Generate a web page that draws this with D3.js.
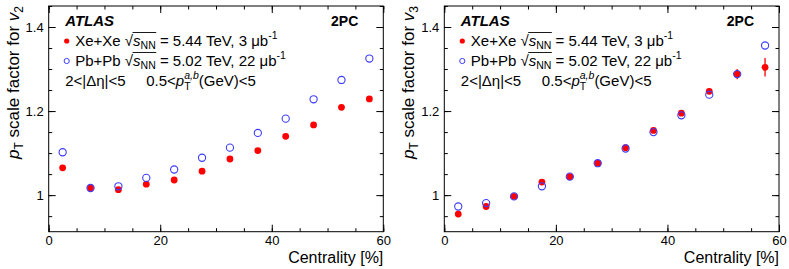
<!DOCTYPE html>
<html>
<head>
<meta charset="utf-8">
<style>
  body { margin: 0; background: #fff; }
  svg text { font-family: "Liberation Sans", Arial, Helvetica, sans-serif; fill: #000; }
</style>
</head>
<body>
<svg id="chart" width="789" height="269"></svg>
<script src="https://d3js.org/d3.v7.min.js"></script>
<script>
  // Centrality bin centres [%]
  const centrality = [2.5, 7.5, 12.5, 17.5, 22.5, 27.5, 32.5, 37.5, 42.5, 47.5, 52.5, 57.5];

  // pT scale factor for v2
  const v2XeXe = [1.065, 1.017, 1.013, 1.026, 1.036, 1.057, 1.086, 1.106, 1.140, 1.167, 1.209, 1.229];
  const v2PbPb = [1.102, 1.017, 1.021, 1.041, 1.061, 1.089, 1.113, 1.148, 1.182, 1.228, 1.274, 1.325];

  // pT scale factor for v3
  const v3XeXe = [0.955, 0.973, 0.997, 1.031, 1.044, 1.076, 1.113, 1.154, 1.195, 1.247, 1.288, 1.304];
  const v3XeXeErr = [0, 0, 0, 0, 0, 0, 0, 0, 0.004, 0.006, 0.012, 0.022];
  const v3PbPb = [0.973, 0.981, 0.997, 1.021, 1.044, 1.076, 1.111, 1.150, 1.190, 1.239, 1.288, 1.356];

  const xMajor = [0, 20, 40, 60];
  const xMinor = d3.range(0, 61, 5);
  const yMajor = [1, 1.2, 1.4];
  const yMinor = d3.range(0.95, 1.451, 0.05);

  const svg = d3.select('#chart');

  const plotTop = 6, plotBottom = 231.7;
  const y = d3.scaleLinear().domain([0.913, 1.45]).range([plotBottom, plotTop]);

  const red = '#ff0000';
  const blue = '#3c3cff';

  function panel(x0, x1, xe, pb, xeErr, harmonic) {
    const x = d3.scaleLinear().domain([0, 60]).range([x0, x1]);
    const g = svg.append('g');

    // frame
    g.append('rect')
      .attr('x', x0).attr('y', plotTop)
      .attr('width', x1 - x0).attr('height', plotBottom - plotTop)
      .attr('fill', 'none').attr('stroke', '#000').attr('stroke-width', 1);

    // axes: major + minor ticks on all four sides, pointing inward
    const addAxis = (axis, tr, labels) => {
      const a = g.append('g').attr('transform', tr).call(axis);
      a.select('.domain').remove();
      a.selectAll('line').attr('stroke', '#000');
      if (!labels) a.selectAll('text').remove();
      return a;
    };
    const fmt = d => (d === 1 ? '1' : d3.format('.1f')(d));

    const xb = addAxis(d3.axisBottom(x).tickValues(xMajor).tickSize(-7).tickPadding(4), `translate(0,${plotBottom})`, true);
    xb.selectAll('text').attr('font-size', 13).attr('font-family', '"Liberation Sans", Arial, sans-serif');
    addAxis(d3.axisBottom(x).tickValues(xMinor).tickSize(-3.5), `translate(0,${plotBottom})`, false);
    addAxis(d3.axisTop(x).tickValues(xMajor).tickSize(-7), `translate(0,${plotTop})`, false);
    addAxis(d3.axisTop(x).tickValues(xMinor).tickSize(-3.5), `translate(0,${plotTop})`, false);

    const yl = addAxis(d3.axisLeft(y).tickValues(yMajor).tickSize(-7).tickPadding(5).tickFormat(fmt), `translate(${x0},0)`, true);
    yl.selectAll('text').attr('font-size', 13).attr('font-family', '"Liberation Sans", Arial, sans-serif');
    addAxis(d3.axisLeft(y).tickValues(yMinor).tickSize(-3.5), `translate(${x0},0)`, false);
    addAxis(d3.axisRight(y).tickValues(yMajor).tickSize(-7), `translate(${x1},0)`, false);
    addAxis(d3.axisRight(y).tickValues(yMinor).tickSize(-3.5), `translate(${x1},0)`, false);

    // x title
    g.append('text')
      .attr('x', x1).attr('y', 263)
      .attr('text-anchor', 'end').attr('font-size', 16)
      .text('Centrality [%]');

    // y title
    const yt = g.append('text')
      .attr('transform', `translate(${x0 - 30},${plotTop}) rotate(-90)`)
      .attr('text-anchor', 'end').attr('font-size', 17);
    yt.append('tspan').attr('font-style', 'italic').text('p');
    yt.append('tspan').attr('font-size', 12).attr('dy', 4).text('T');
    yt.append('tspan').attr('dy', -4).text(' scale factor for ');
    yt.append('tspan').attr('font-style', 'italic').text('v');
    yt.append('tspan').attr('font-size', 12).attr('dy', 4).text(harmonic);

    // data: error bars, red filled, blue open on top
    const pts = centrality.map((c, i) => ({ c, xe: xe[i], pb: pb[i], err: xeErr ? xeErr[i] : 0 }));
    g.selectAll('.err').data(pts.filter(d => d.err > 0)).enter().append('line')
      .attr('x1', d => x(d.c)).attr('x2', d => x(d.c))
      .attr('y1', d => y(d.xe - d.err)).attr('y2', d => y(d.xe + d.err))
      .attr('stroke', red).attr('stroke-width', 1.3);
    g.selectAll('.xe').data(pts).enter().append('circle')
      .attr('cx', d => x(d.c)).attr('cy', d => y(d.xe))
      .attr('r', 3.4).attr('fill', red);
    g.selectAll('.pb').data(pts).enter().append('circle')
      .attr('cx', d => x(d.c)).attr('cy', d => y(d.pb))
      .attr('r', 3.6).attr('fill', 'none').attr('stroke', blue).attr('stroke-width', 1.1);

    // legend
    g.append('text').attr('x', x0 + 16.5).attr('y', 25.5)
      .attr('font-size', 15).attr('font-weight', 'bold').attr('font-style', 'italic').text('ATLAS');
    g.append('text').attr('x', x1 - 25).attr('y', 25.5).attr('text-anchor', 'end')
      .attr('font-size', 14).attr('font-weight', 'bold').text('2PC');

    const entry = (yb, marker, sys, energy, lumi) => {
      const m = g.append('circle').attr('cx', x0 + 18).attr('cy', yb - 4.5).attr('r', 2.6);
      if (marker === 'filled') m.attr('fill', red);
      else m.attr('fill', 'none').attr('stroke', blue).attr('stroke-width', 1);
      const t = g.append('text').attr('x', x0 + 26.5).attr('y', yb).attr('font-size', 15);
      t.append('tspan').text(sys + ' \u221A');
      t.append('tspan').attr('font-style', 'italic').text('s');
      t.append('tspan').attr('font-size', 10.5).attr('dy', 3.5).text('NN');
      t.append('tspan').attr('dy', -3.5).text(' = ' + energy + ' TeV, ' + lumi + ' \u03BCb');
      t.append('tspan').attr('font-size', 10.5).attr('dy', -6.5).text('-1');
      // radical overline over s_NN
      const n = t.node();
      const i0 = (sys + ' \u221A').length;
      const sx = n.getEndPositionOfChar(i0 - 1).x;
      const ex = n.getEndPositionOfChar(i0 + 2).x;
      g.append('line').attr('x1', sx - 0.5).attr('x2', ex + 0.5)
        .attr('y1', yb - 13).attr('y2', yb - 13)
        .attr('stroke', '#000').attr('stroke-width', 0.9);
    };
    entry(45.5, 'filled', 'Xe+Xe', '5.44', '3');
    entry(65.5, 'open', 'Pb+Pb', '5.02', '22');

    g.append('text').attr('x', x0 + 16.5).attr('y', 85.5).attr('font-size', 15)
      .text('2<|\u0394\u03B7|<5');
    const c = g.append('text').attr('x', x0 + 97.5).attr('y', 85.5).attr('font-size', 15);
    c.append('tspan').text('0.5<');
    c.append('tspan').attr('font-style', 'italic').text('p');
    c.append('tspan').attr('font-style', 'italic').attr('font-size', 10.5).attr('dy', -6.5).text('a,b');
    c.append('tspan').attr('dy', 6.5).text('(GeV)<5');
    const cp = c.node().getEndPositionOfChar(4).x;
    g.append('text').attr('x', cp).attr('y', 90).attr('font-size', 10.5).text('T');
  }

  panel(48.7, 383.3, v2XeXe, v2PbPb, null, '2');
  panel(444.3, 779, v3XeXe, v3PbPb, v3XeXeErr, '3');
</script>
</body>
</html>
